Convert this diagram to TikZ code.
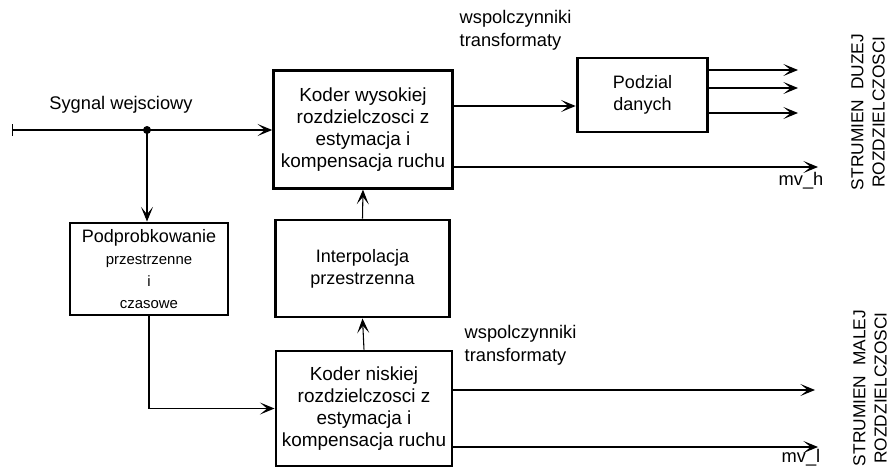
\documentclass[tikz,border=0pt]{standalone}
\usepackage{fontspec}
\setmainfont{Liberation Sans}
\usetikzlibrary{arrows.meta}

\newcommand{\drobny}{\fontsize{11.2}{15}\selectfont}

\begin{document}
\begin{tikzpicture}[x=0.75pt,y=-0.75pt,
  blok/.style={draw,line width=2.2pt,align=center,inner sep=0pt,
    font=\fontsize{13.5}{16.5}\selectfont},
  koder/.style={blok,font=\fontsize{14.2}{16.5}\selectfont},
  strz/.style={-{Stealth[length=11pt,width=9pt,inset=5.5pt]},line width=0.8pt},
  opis/.style={font=\fontsize{13.7}{17}\selectfont}]
  \useasboundingbox (0,0) rectangle (890,475);

  % bloki
  \node[koder,minimum width=134pt,minimum height=88pt] (hi) at (363,129.5)
    {Koder wysokiej\\rozdzielczosci z\\estymacja i\\kompensacja ruchu};
  \node[blok,minimum width=98pt,minimum height=55.5pt] (podzial) at (642.5,95)
    {Podzial\\danych};
  \node[blok,minimum width=118.5pt,minimum height=69pt] (podpr) at (149,269)
    {Podprobkowanie\\\drobny przestrzenne\\\drobny i\\\drobny czasowe};
  \node[blok,minimum width=131pt,minimum height=72.75pt] (interp) at (362.5,268.5)
    {Interpolacja\\przestrzenna};
  \node[koder,minimum width=132pt,minimum height=86.25pt] (lo) at (364,408.5)
    {Koder niskiej\\rozdzielczosci z\\estymacja i\\kompensacja ruchu};

  % wejscie
  \coordinate (we) at (12,130);
  \coordinate (split) at (147,130);
  \draw[{Bar[width=9pt]}-{Stealth[length=11pt,width=9pt,inset=5.5pt]},line width=0.8pt] (we) -- (hi.west |- we);
  \fill (split) circle (3pt);
  \draw[strz] (split) -- (split |- podpr.north);
  \node[opis] (sygnal) at (121,105) {Sygnal wejsciowy};

  \draw[strz] (interp.north) -- (hi.south);
  \draw[strz] (lo.north) -- (interp.south);
  \draw[strz] (podpr.south) |- (lo.west);

  % gorny strumien
  \coordinate (wsp) at (452,106);
  \draw[strz] (wsp) -- (wsp -| podzial.west);
  \node[opis,anchor=west,align=left] (wsph) at (455,30) {wspolczynniki\\transformaty};
  \foreach \y/\n in {70/a,88/b,113/c}
    \coordinate (out\n) at (798,\y);
  \foreach \n in {a,b,c}
    \draw[strz] (podzial.east |- out\n) -- (out\n);
  \coordinate (mvh) at (818,167);
  \draw[strz] (hi.east |- mvh) -- (mvh);
  \node[opis] (mvhl) at (801,181) {mv\_h};

  % dolny strumien
  \node[opis,anchor=west,align=left] (wspl) at (460,345) {wspolczynniki\\transformaty};
  \coordinate (outd) at (815,390);
  \draw[strz] (lo.east |- outd) -- (outd);
  \coordinate (mvl) at (818,447);
  \draw[strz] (lo.east |- mvl) -- (mvl);
  \node[opis] (mvll) at (801,458) {mv\_l};

  % opisy strumieni
  \node[opis,font=\fontsize{13}{15.8}\selectfont,rotate=90,align=center,inner sep=0pt] (duza) at (868,112)
    {STRUMIEN\ \ DUZEJ\\ROZDZIELCZOSCI};
  \node[opis,font=\fontsize{13}{15.8}\selectfont,rotate=90,align=center,inner sep=0pt] (mala) at (870,388)
    {STRUMIEN\ \ MALEJ\\ROZDZIELCZOSCI};
\end{tikzpicture}
\end{document}
